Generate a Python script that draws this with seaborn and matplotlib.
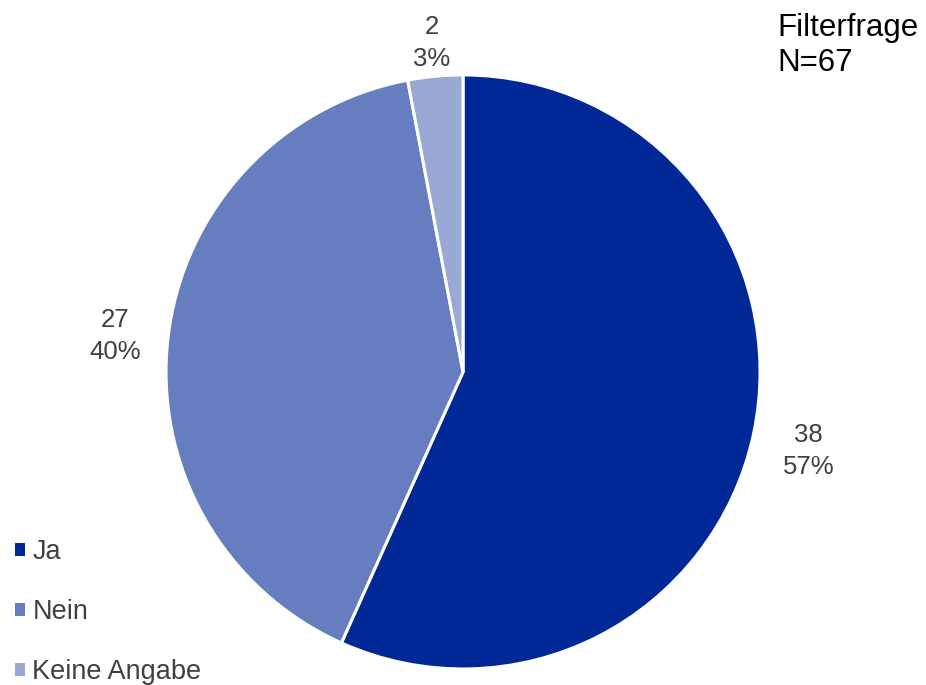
import matplotlib
matplotlib.use("Agg")
import matplotlib.pyplot as plt
from matplotlib.patches import Patch
import numpy as np
import seaborn as sns

sns.set_theme(style="white")
plt.rcParams["font.family"] = ["Liberation Sans", "DejaVu Sans"]

categories = ["Ja", "Nein", "Keine Angabe"]
counts = [38, 27, 2]
colors = ["#002896", "#667EC0", "#99A8D5"]
title_lines = ["Filterfrage", "N=67"]

total = sum(counts)
labels = [f"{c}\n{round(100 * c / total)}%" for c in counts]
label_dist = [1.19, 1.18, 1.13]

fig = plt.figure(figsize=(9.26, 6.85), dpi=100)
ax = fig.add_axes([0.1793, 0.0234, 0.6415, 0.8672])

wedges, _ = ax.pie(
    counts,
    colors=colors,
    startangle=90,
    counterclock=False,
    radius=1.0,
    wedgeprops=dict(edgecolor="white", linewidth=2.2),
)
ax.set_xlim(-1, 1)
ax.set_ylim(-1, 1)
ax.set_aspect("equal")
ax.axis("off")

# value / share labels just outside each wedge
for w, lab, d in zip(wedges, labels, label_dist):
    ang = np.deg2rad((w.theta1 + w.theta2) / 2)
    ax.text(d * np.cos(ang), d * np.sin(ang) - 0.018, lab, ha="center", va="center",
            fontsize=18.5, color="#404040", linespacing=1.42, clip_on=False)

fig.text(0.840, 0.981, "\n".join(title_lines), ha="left", va="top",
         fontsize=22.5, color="black", linespacing=1.2)

handles = [Patch(facecolor=c, edgecolor="none") for c in colors]
fig.legend(handles, categories, loc="lower left", bbox_to_anchor=(0.004, -0.016),
           frameon=False, fontsize=19.5, labelcolor="#404040",
           handlelength=0.38, handleheight=0.38, handletextpad=0.28,
           labelspacing=1.26, borderaxespad=0)

fig.savefig("out.png", dpi=100)
